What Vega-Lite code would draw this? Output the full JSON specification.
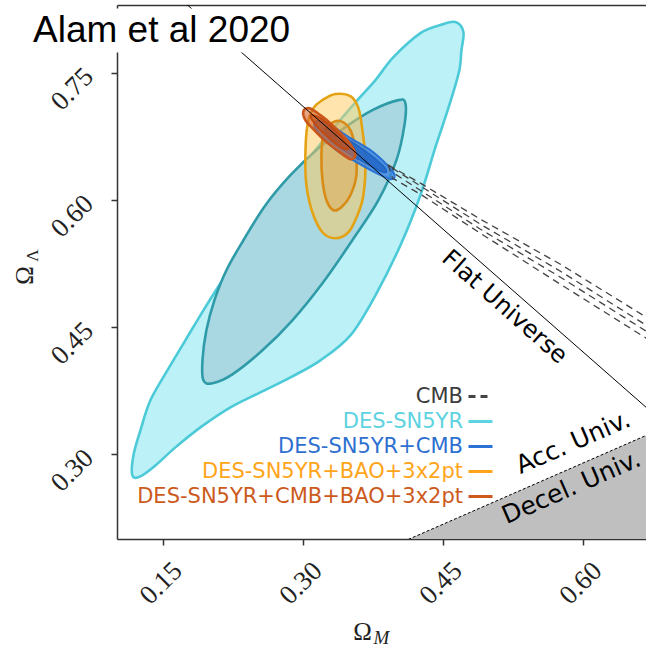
{
  "$schema": "https://vega.github.io/schema/vega-lite/v6.json",
  "width": 529,
  "height": 534,
  "autosize": {"type": "none"},
  "padding": {"left": 117, "top": 5, "right": 0, "bottom": 107},
  "background": "white",
  "config": {"view": {"stroke": null}},
  "data": {
    "values": [
      {"c": "sn_o", "i": 1, "om": 0.4262, "ol": 0.7969},
      {"c": "sn_o", "i": 2, "om": 0.4476, "ol": 0.8063},
      {"c": "sn_o", "i": 3, "om": 0.4637, "ol": 0.8099},
      {"c": "sn_o", "i": 4, "om": 0.4723, "ol": 0.7981},
      {"c": "sn_o", "i": 5, "om": 0.4702, "ol": 0.7768},
      {"c": "sn_o", "i": 6, "om": 0.4680, "ol": 0.7532},
      {"c": "sn_o", "i": 7, "om": 0.4605, "ol": 0.7237},
      {"c": "sn_o", "i": 8, "om": 0.4509, "ol": 0.6906},
      {"c": "sn_o", "i": 9, "om": 0.4423, "ol": 0.6623},
      {"c": "sn_o", "i": 10, "om": 0.4262, "ol": 0.6056},
      {"c": "sn_o", "i": 11, "om": 0.4048, "ol": 0.5466},
      {"c": "sn_o", "i": 12, "om": 0.3780, "ol": 0.4875},
      {"c": "sn_o", "i": 13, "om": 0.3512, "ol": 0.4403},
      {"c": "sn_o", "i": 14, "om": 0.3190, "ol": 0.4108},
      {"c": "sn_o", "i": 15, "om": 0.2869, "ol": 0.3907},
      {"c": "sn_o", "i": 16, "om": 0.2547, "ol": 0.3730},
      {"c": "sn_o", "i": 17, "om": 0.2226, "ol": 0.3553},
      {"c": "sn_o", "i": 18, "om": 0.1904, "ol": 0.3317},
      {"c": "sn_o", "i": 19, "om": 0.1636, "ol": 0.3081},
      {"c": "sn_o", "i": 20, "om": 0.1422, "ol": 0.2868},
      {"c": "sn_o", "i": 21, "om": 0.1261, "ol": 0.2739},
      {"c": "sn_o", "i": 22, "om": 0.1175, "ol": 0.2750},
      {"c": "sn_o", "i": 23, "om": 0.1186, "ol": 0.2986},
      {"c": "sn_o", "i": 24, "om": 0.1261, "ol": 0.3282},
      {"c": "sn_o", "i": 25, "om": 0.1368, "ol": 0.3636},
      {"c": "sn_o", "i": 26, "om": 0.1550, "ol": 0.3990},
      {"c": "sn_o", "i": 27, "om": 0.1743, "ol": 0.4344},
      {"c": "sn_o", "i": 28, "om": 0.1936, "ol": 0.4698},
      {"c": "sn_o", "i": 29, "om": 0.2140, "ol": 0.5053},
      {"c": "sn_o", "i": 30, "om": 0.2386, "ol": 0.5466},
      {"c": "sn_o", "i": 31, "om": 0.2654, "ol": 0.5879},
      {"c": "sn_o", "i": 32, "om": 0.2901, "ol": 0.6257},
      {"c": "sn_o", "i": 33, "om": 0.3137, "ol": 0.6588},
      {"c": "sn_o", "i": 34, "om": 0.3383, "ol": 0.6918},
      {"c": "sn_o", "i": 35, "om": 0.3587, "ol": 0.7178},
      {"c": "sn_o", "i": 36, "om": 0.3780, "ol": 0.7414},
      {"c": "sn_o", "i": 37, "om": 0.3973, "ol": 0.7685},

      {"c": "sn_i", "i": 1, "om": 0.4026, "ol": 0.7178},
      {"c": "sn_i", "i": 2, "om": 0.4101, "ol": 0.7142},
      {"c": "sn_i", "i": 3, "om": 0.4091, "ol": 0.6883},
      {"c": "sn_i", "i": 4, "om": 0.4005, "ol": 0.6469},
      {"c": "sn_i", "i": 5, "om": 0.3812, "ol": 0.5997},
      {"c": "sn_i", "i": 6, "om": 0.3533, "ol": 0.5525},
      {"c": "sn_i", "i": 7, "om": 0.3212, "ol": 0.5017},
      {"c": "sn_i", "i": 8, "om": 0.2890, "ol": 0.4580},
      {"c": "sn_i", "i": 9, "om": 0.2569, "ol": 0.4226},
      {"c": "sn_i", "i": 10, "om": 0.2247, "ol": 0.3943},
      {"c": "sn_i", "i": 11, "om": 0.2033, "ol": 0.3837},
      {"c": "sn_i", "i": 12, "om": 0.1936, "ol": 0.3872},
      {"c": "sn_i", "i": 13, "om": 0.1926, "ol": 0.4108},
      {"c": "sn_i", "i": 14, "om": 0.1968, "ol": 0.4462},
      {"c": "sn_i", "i": 15, "om": 0.2054, "ol": 0.4816},
      {"c": "sn_i", "i": 16, "om": 0.2183, "ol": 0.5171},
      {"c": "sn_i", "i": 17, "om": 0.2365, "ol": 0.5525},
      {"c": "sn_i", "i": 18, "om": 0.2601, "ol": 0.5938},
      {"c": "sn_i", "i": 19, "om": 0.2869, "ol": 0.6292},
      {"c": "sn_i", "i": 20, "om": 0.3169, "ol": 0.6611},
      {"c": "sn_i", "i": 21, "om": 0.3458, "ol": 0.6859},
      {"c": "sn_i", "i": 22, "om": 0.3748, "ol": 0.7060},

      {"c": "bao_o", "i": 1, "om": 0.3212, "ol": 0.7178},
      {"c": "bao_o", "i": 2, "om": 0.3351, "ol": 0.7249},
      {"c": "bao_o", "i": 3, "om": 0.3512, "ol": 0.7225},
      {"c": "bao_o", "i": 4, "om": 0.3598, "ol": 0.7083},
      {"c": "bao_o", "i": 5, "om": 0.3640, "ol": 0.6824},
      {"c": "bao_o", "i": 6, "om": 0.3673, "ol": 0.6469},
      {"c": "bao_o", "i": 7, "om": 0.3651, "ol": 0.6056},
      {"c": "bao_o", "i": 8, "om": 0.3587, "ol": 0.5820},
      {"c": "bao_o", "i": 9, "om": 0.3490, "ol": 0.5619},
      {"c": "bao_o", "i": 10, "om": 0.3351, "ol": 0.5548},
      {"c": "bao_o", "i": 11, "om": 0.3212, "ol": 0.5619},
      {"c": "bao_o", "i": 12, "om": 0.3104, "ol": 0.5855},
      {"c": "bao_o", "i": 13, "om": 0.3040, "ol": 0.6174},
      {"c": "bao_o", "i": 14, "om": 0.3029, "ol": 0.6528},
      {"c": "bao_o", "i": 15, "om": 0.3051, "ol": 0.6883},
      {"c": "bao_o", "i": 16, "om": 0.3115, "ol": 0.7083},

      {"c": "bao_i", "i": 1, "om": 0.3297, "ol": 0.6894},
      {"c": "bao_i", "i": 2, "om": 0.3405, "ol": 0.6930},
      {"c": "bao_i", "i": 3, "om": 0.3512, "ol": 0.6824},
      {"c": "bao_i", "i": 4, "om": 0.3565, "ol": 0.6588},
      {"c": "bao_i", "i": 5, "om": 0.3576, "ol": 0.6292},
      {"c": "bao_i", "i": 6, "om": 0.3512, "ol": 0.6056},
      {"c": "bao_i", "i": 7, "om": 0.3415, "ol": 0.5914},
      {"c": "bao_i", "i": 8, "om": 0.3330, "ol": 0.5879},
      {"c": "bao_i", "i": 9, "om": 0.3255, "ol": 0.5997},
      {"c": "bao_i", "i": 10, "om": 0.3212, "ol": 0.6233},
      {"c": "bao_i", "i": 11, "om": 0.3201, "ol": 0.6528},
      {"c": "bao_i", "i": 12, "om": 0.3222, "ol": 0.6765},

      {"c": "snc_o", "i": 1, "om": 0.3147, "ol": 0.6930},
      {"c": "snc_o", "i": 2, "om": 0.3297, "ol": 0.6883},
      {"c": "snc_o", "i": 3, "om": 0.3512, "ol": 0.6729},
      {"c": "snc_o", "i": 4, "om": 0.3726, "ol": 0.6588},
      {"c": "snc_o", "i": 5, "om": 0.3898, "ol": 0.6422},
      {"c": "snc_o", "i": 6, "om": 0.3983, "ol": 0.6304},
      {"c": "snc_o", "i": 7, "om": 0.3951, "ol": 0.6245},
      {"c": "snc_o", "i": 8, "om": 0.3791, "ol": 0.6316},
      {"c": "snc_o", "i": 9, "om": 0.3576, "ol": 0.6446},
      {"c": "snc_o", "i": 10, "om": 0.3362, "ol": 0.6588},
      {"c": "snc_o", "i": 11, "om": 0.3201, "ol": 0.6753},
      {"c": "snc_o", "i": 12, "om": 0.3126, "ol": 0.6871},

      {"c": "snc_i", "i": 1, "om": 0.3255, "ol": 0.6847},
      {"c": "snc_i", "i": 2, "om": 0.3458, "ol": 0.6729},
      {"c": "snc_i", "i": 3, "om": 0.3673, "ol": 0.6576},
      {"c": "snc_i", "i": 4, "om": 0.3855, "ol": 0.6411},
      {"c": "snc_i", "i": 5, "om": 0.3898, "ol": 0.6328},
      {"c": "snc_i", "i": 6, "om": 0.3812, "ol": 0.6351},
      {"c": "snc_i", "i": 7, "om": 0.3619, "ol": 0.6469},
      {"c": "snc_i", "i": 8, "om": 0.3405, "ol": 0.6611},
      {"c": "snc_i", "i": 9, "om": 0.3255, "ol": 0.6753},

      {"c": "all_o", "i": 1, "om": 0.3008, "ol": 0.7048},
      {"c": "all_o", "i": 2, "om": 0.3072, "ol": 0.7083},
      {"c": "all_o", "i": 3, "om": 0.3190, "ol": 0.7001},
      {"c": "all_o", "i": 4, "om": 0.3319, "ol": 0.6883},
      {"c": "all_o", "i": 5, "om": 0.3447, "ol": 0.6741},
      {"c": "all_o", "i": 6, "om": 0.3533, "ol": 0.6623},
      {"c": "all_o", "i": 7, "om": 0.3565, "ol": 0.6528},
      {"c": "all_o", "i": 8, "om": 0.3512, "ol": 0.6481},
      {"c": "all_o", "i": 9, "om": 0.3383, "ol": 0.6576},
      {"c": "all_o", "i": 10, "om": 0.3244, "ol": 0.6694},
      {"c": "all_o", "i": 11, "om": 0.3115, "ol": 0.6835},
      {"c": "all_o", "i": 12, "om": 0.3029, "ol": 0.6942},

      {"c": "all_i", "i": 1, "om": 0.3083, "ol": 0.6989},
      {"c": "all_i", "i": 2, "om": 0.3169, "ol": 0.6977},
      {"c": "all_i", "i": 3, "om": 0.3297, "ol": 0.6871},
      {"c": "all_i", "i": 4, "om": 0.3426, "ol": 0.6729},
      {"c": "all_i", "i": 5, "om": 0.3490, "ol": 0.6611},
      {"c": "all_i", "i": 6, "om": 0.3426, "ol": 0.6611},
      {"c": "all_i", "i": 7, "om": 0.3297, "ol": 0.6717},
      {"c": "all_i", "i": 8, "om": 0.3169, "ol": 0.6847},

      {"c": "cmb_o", "s": "CMB", "i": 1, "om": 0.3919, "ol": 0.6411},
      {"c": "cmb_o", "s": "CMB", "i": 2, "om": 0.4262, "ol": 0.6198},
      {"c": "cmb_o", "s": "CMB", "i": 3, "om": 0.4905, "ol": 0.5773},
      {"c": "cmb_o", "s": "CMB", "i": 4, "om": 0.5763, "ol": 0.5241},
      {"c": "cmb_o", "s": "CMB", "i": 5, "om": 0.6684, "ol": 0.4616},
      {"c": "cmb_o", "s": "CMB", "i": 6, "om": 0.7263, "ol": 0.4226},
      {"c": "cmb_o", "s": "CMB", "i": 7, "om": 0.7263, "ol": 0.3966},
      {"c": "cmb_o", "s": "CMB", "i": 8, "om": 0.6684, "ol": 0.4368},
      {"c": "cmb_o", "s": "CMB", "i": 9, "om": 0.5763, "ol": 0.5005},
      {"c": "cmb_o", "s": "CMB", "i": 10, "om": 0.4905, "ol": 0.5607},
      {"c": "cmb_o", "s": "CMB", "i": 11, "om": 0.4262, "ol": 0.6068},
      {"c": "cmb_o", "s": "CMB", "i": 12, "om": 0.3962, "ol": 0.6257},

      {"c": "cmb_i", "s": "CMB", "i": 1, "om": 0.3962, "ol": 0.6375},
      {"c": "cmb_i", "s": "CMB", "i": 2, "om": 0.4905, "ol": 0.5714},
      {"c": "cmb_i", "s": "CMB", "i": 3, "om": 0.5763, "ol": 0.5159},
      {"c": "cmb_i", "s": "CMB", "i": 4, "om": 0.6684, "ol": 0.4521},
      {"c": "cmb_i", "s": "CMB", "i": 5, "om": 0.7263, "ol": 0.4132},
      {"c": "cmb_i", "s": "CMB", "i": 6, "om": 0.7263, "ol": 0.4061},
      {"c": "cmb_i", "s": "CMB", "i": 7, "om": 0.6684, "ol": 0.4450},
      {"c": "cmb_i", "s": "CMB", "i": 8, "om": 0.5763, "ol": 0.5088},
      {"c": "cmb_i", "s": "CMB", "i": 9, "om": 0.4905, "ol": 0.5655},
      {"c": "cmb_i", "s": "CMB", "i": 10, "om": 0.3994, "ol": 0.6304},

      {"c": "flat", "i": 1, "om": 0.17, "ol": 0.8363},
      {"c": "flat", "i": 2, "om": 0.68, "ol": 0.3439},

      {"c": "decel", "i": 1, "om": 0.3935, "ol": 0.19},
      {"c": "decel", "i": 2, "om": 0.68, "ol": 0.3279},

      {"c": "txt", "t": "Flat Universe", "om": 0.5162, "ol": 0.4734},
      {"c": "txt", "t": "Acc. Univ.", "om": 0.590, "ol": 0.314},
      {"c": "txt", "t": "Decel. Univ.", "om": 0.588, "ol": 0.261},

      {"c": "box", "om": 0.095, "om2": 0.296, "ol": 0.774, "ol2": 0.826},
      {"c": "head", "t": "Alam et al 2020", "om": 0.011, "ol": 0.7863}
    ]
  },
  "encoding": {
    "x": {"field": "om", "type": "quantitative", "scale": {"domain": [0.101, 0.668], "nice": false, "zero": false}, "axis": null},
    "y": {"field": "ol", "type": "quantitative", "scale": {"domain": [0.2, 0.83], "nice": false, "zero": false}, "axis": null}
  },
  "resolve": {"axis": {"x": "independent", "y": "independent"}},
  "layer": [
    {
      "transform": [{"filter": "datum.c === 'decel'"}],
      "mark": {"type": "area", "color": "#bfbfbf", "clip": true},
      "encoding": {
        "x": {
          "field": "om", "type": "quantitative",
          "scale": {"domain": [0.101, 0.668], "nice": false, "zero": false},
          "axis": {
            "title": "Ω", "orient": "bottom", "values": [0.15, 0.30, 0.45, 0.60], "format": ".2f", "grid": false,
            "domainColor": "#333333", "domainWidth": 1.5, "tickColor": "#333333", "tickWidth": 1.5, "tickSize": 6,
            "labelFont": "Liberation Serif", "labelFontSize": 27, "labelColor": "#222222",
            "labelAngle": -45, "labelAlign": "center", "labelBaseline": "middle", "labelPadding": 38, "labelOffset": -2,
            "labelFlush": false, "labelOverlap": false, "labelBound": false,
            "titleFont": "Liberation Serif", "titleFontSize": 25, "titleFontWeight": "normal", "titleColor": "#222222",
            "titleX": 245, "titleY": 100, "titleAlign": "center", "titleBaseline": "alphabetic", "titleAngle": 0
          }
        },
        "y": {
          "field": "ol", "type": "quantitative",
          "scale": {"domain": [0.2, 0.83], "nice": false, "zero": false},
          "axis": {
            "title": "Ω", "orient": "left", "values": [0.30, 0.45, 0.60, 0.75], "format": ".2f", "grid": false,
            "domainColor": "#333333", "domainWidth": 1.5, "tickColor": "#333333", "tickWidth": 1.5, "tickSize": 6,
            "labelFont": "Liberation Serif", "labelFontSize": 27, "labelColor": "#222222",
            "labelAngle": -45, "labelAlign": "center", "labelBaseline": "middle", "labelPadding": 39, "labelOffset": 16,
            "labelFlush": false, "labelOverlap": false, "labelBound": false,
            "titleFont": "Liberation Serif", "titleFontSize": 25, "titleFontWeight": "normal", "titleColor": "#222222",
            "titleX": -85, "titleY": 270, "titleAlign": "center", "titleBaseline": "alphabetic", "titleAngle": -90
          }
        },
        "y2": {"datum": 0.19}
      }
    },
    {
      "transform": [{"filter": "datum.c === 'decel'"}],
      "mark": {"type": "line", "color": "#000000", "strokeWidth": 1, "strokeDash": [3, 2], "clip": true},
      "encoding": {
        "x": {
          "field": "om", "type": "quantitative",
          "scale": {"domain": [0.101, 0.668], "nice": false, "zero": false},
          "axis": {
            "title": "M", "orient": "bottom", "domain": false, "ticks": false, "labels": false, "grid": false,
            "titleFont": "Liberation Serif", "titleFontSize": 19, "titleFontStyle": "italic", "titleFontWeight": "normal",
            "titleColor": "#222222", "titleX": 256, "titleY": 104, "titleAlign": "left", "titleBaseline": "alphabetic", "titleAngle": 0
          }
        },
        "y": {
          "field": "ol", "type": "quantitative",
          "scale": {"domain": [0.2, 0.83], "nice": false, "zero": false},
          "axis": {
            "title": "Λ", "orient": "left", "domain": false, "ticks": false, "labels": false, "grid": false,
            "titleFont": "Liberation Serif", "titleFontSize": 17, "titleFontWeight": "normal",
            "titleColor": "#222222", "titleX": -80, "titleY": 250, "titleAlign": "center", "titleBaseline": "alphabetic", "titleAngle": -90
          }
        },
        "order": {"field": "i"}
      }
    },
    {
      "transform": [{"filter": "datum.c === 'sn_o'"}],
      "mark": {"type": "line", "interpolate": "cardinal-closed", "fill": "#bcf2f7", "stroke": "#4ccad8", "strokeWidth": 2.6, "clip": true},
      "encoding": {"order": {"field": "i"}}
    },
    {
      "transform": [{"filter": "datum.c === 'sn_i'"}],
      "mark": {"type": "line", "interpolate": "cardinal-closed", "fill": "#a9d8e2", "stroke": "#2f9ba8", "strokeWidth": 2.6, "clip": true},
      "encoding": {"order": {"field": "i"}}
    },
    {
      "transform": [{"filter": "datum.c === 'bao_o'"}],
      "mark": {"type": "line", "interpolate": "cardinal-closed", "fill": "#ffc95c", "fillOpacity": 0.5, "stroke": "#e4a215", "strokeWidth": 2.6, "clip": true},
      "encoding": {"order": {"field": "i"}}
    },
    {
      "transform": [{"filter": "datum.c === 'bao_i'"}],
      "mark": {"type": "line", "interpolate": "cardinal-closed", "fill": "#e0a040", "fillOpacity": 0.4, "stroke": "#d88c16", "strokeWidth": 2.6, "clip": true},
      "encoding": {"order": {"field": "i"}}
    },
    {
      "transform": [{"filter": "datum.c === 'snc_o'"}],
      "mark": {"type": "line", "interpolate": "cardinal-closed", "fill": "#3a86e0", "fillOpacity": 0.8, "stroke": "#2a72d5", "strokeWidth": 2, "clip": true},
      "encoding": {"order": {"field": "i"}}
    },
    {
      "transform": [{"filter": "datum.c === 'snc_i'"}],
      "mark": {"type": "line", "interpolate": "cardinal-closed", "fill": "#1f63c4", "fillOpacity": 0.8, "stroke": "#1f63c4", "strokeWidth": 1.5, "clip": true},
      "encoding": {"order": {"field": "i"}}
    },
    {
      "transform": [{"filter": "datum.c === 'all_o'"}],
      "mark": {"type": "line", "interpolate": "cardinal-closed", "fill": "#d8662a", "fillOpacity": 0.6, "stroke": "#c9561a", "strokeWidth": 2.6, "clip": true},
      "encoding": {"order": {"field": "i"}}
    },
    {
      "transform": [{"filter": "datum.c === 'all_i'"}],
      "mark": {"type": "line", "interpolate": "cardinal-closed", "fill": "#c04a10", "fillOpacity": 0.6, "stroke": "#c04a10", "strokeWidth": 2, "clip": true},
      "encoding": {"order": {"field": "i"}}
    },
    {
      "transform": [{"filter": "datum.c === 'cmb_o' || datum.c === 'cmb_i'"}],
      "mark": {"type": "line", "interpolate": "linear-closed", "strokeWidth": 1.3, "clip": true},
      "encoding": {
        "detail": {"field": "c"},
        "order": {"field": "i"},
        "color": {
          "field": "s", "type": "nominal",
          "scale": {
            "domain": ["CMB", "DES-SN5YR", "DES-SN5YR+CMB", "DES-SN5YR+BAO+3x2pt", "DES-SN5YR+CMB+BAO+3x2pt"],
            "range": ["#444444", "#5dd2e0", "#2a72d5", "#ffa51a", "#cc5a1c"]
          },
          "legend": {
            "title": null, "orient": "none", "legendX": 350, "legendY": 378, "padding": 0,
            "symbolType": "stroke", "symbolSize": 576, "symbolStrokeWidth": 3, "rowPadding": 1,
            "labelFont": "DejaVu Sans", "labelFontSize": 21, "labelAlign": "right", "labelBaseline": "middle",
            "labelOffset": -31, "labelLimit": 500,
            "labelColor": {"expr": "datum.value === 'CMB' ? '#3c3c3c' : datum.value === 'DES-SN5YR' ? '#5dd2e0' : datum.value === 'DES-SN5YR+CMB' ? '#2e70d0' : datum.value === 'DES-SN5YR+BAO+3x2pt' ? '#ffa51a' : '#cc5a1c'"}
          }
        },
        "strokeDash": {
          "field": "s", "type": "nominal",
          "scale": {
            "domain": ["CMB", "DES-SN5YR", "DES-SN5YR+CMB", "DES-SN5YR+BAO+3x2pt", "DES-SN5YR+CMB+BAO+3x2pt"],
            "range": [[7, 5], [1, 0], [1, 0], [1, 0], [1, 0]]
          },
          "legend": {
            "title": null, "orient": "none", "legendX": 350, "legendY": 378, "padding": 0,
            "symbolType": "stroke", "symbolSize": 576, "symbolStrokeWidth": 3, "rowPadding": 1,
            "labelFont": "DejaVu Sans", "labelFontSize": 21, "labelAlign": "right", "labelBaseline": "middle",
            "labelOffset": -31, "labelLimit": 500
          }
        }
      }
    },
    {
      "transform": [{"filter": "datum.c === 'flat'"}],
      "mark": {"type": "line", "color": "#000000", "strokeWidth": 1, "clip": true},
      "encoding": {"order": {"field": "i"}}
    },
    {
      "transform": [{"filter": "datum.t === 'Flat Universe'"}],
      "mark": {"type": "text", "angle": 41.4, "font": "DejaVu Sans", "fontSize": 24, "align": "center", "baseline": "middle", "color": "#000000"},
      "encoding": {"text": {"field": "t"}}
    },
    {
      "transform": [{"filter": "datum.t === 'Acc. Univ.' || datum.t === 'Decel. Univ.'"}],
      "mark": {"type": "text", "angle": -23.6, "font": "DejaVu Sans", "fontSize": 25, "align": "center", "baseline": "middle", "color": "#000000"},
      "encoding": {"text": {"field": "t"}}
    },
    {
      "transform": [{"filter": "datum.c === 'box'"}],
      "mark": {"type": "rect", "fill": "#ffffff", "clip": false},
      "encoding": {
        "x": {
          "field": "om", "type": "quantitative",
          "scale": {"domain": [0.101, 0.668], "nice": false, "zero": false},
          "axis": {"orient": "top", "title": null, "ticks": false, "labels": false, "grid": false, "domainColor": "#333333", "domainWidth": 1.5}
        },
        "x2": {"field": "om2"},
        "y2": {"field": "ol2"}
      }
    },
    {
      "transform": [{"filter": "datum.c === 'head'"}],
      "mark": {"type": "text", "font": "Liberation Sans", "fontSize": 37, "align": "left", "baseline": "alphabetic", "color": "#000000", "clip": false},
      "encoding": {"text": {"field": "t"}}
    }
  ]
}
